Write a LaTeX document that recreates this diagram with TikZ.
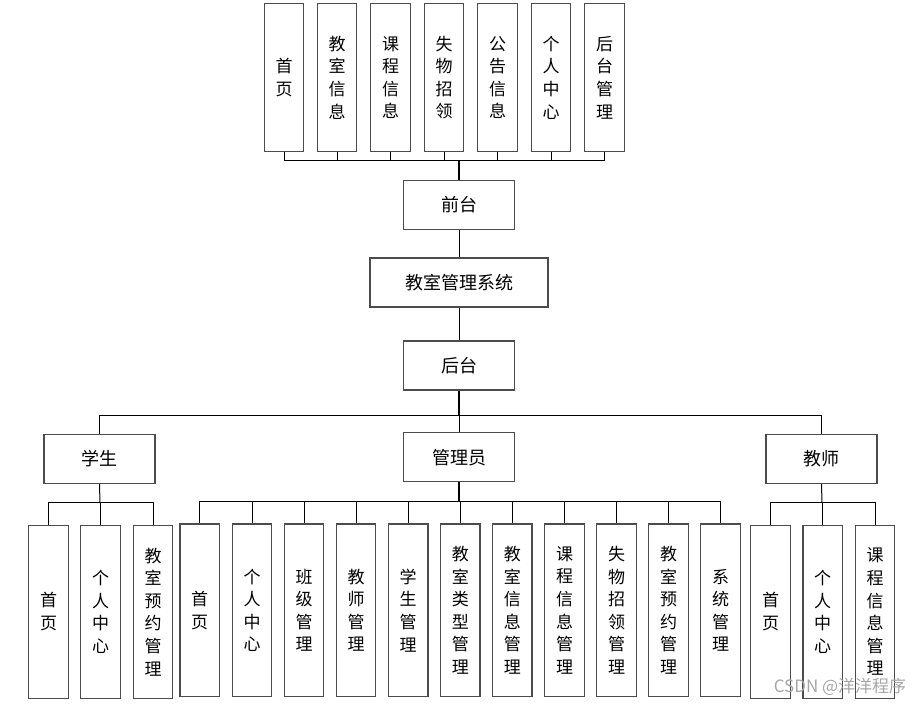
\documentclass[tikz,border=0pt]{standalone}
\usepackage{fontspec}
\setmainfont{Noto Sans CJK SC}
\newcommand{\vt}{\fontsize{17}{22.6}\selectfont}
\tikzset{
  box/.style={draw=black!70, line width=1.2pt, minimum width=39.5pt,
              align=center, inner sep=0pt, font=\vt},
  hbox/.style={draw=black!70, line width=1.2pt, minimum width=111pt,
               minimum height=49pt, font=\fontsize{18}{20}\selectfont},
  link/.style={line width=1pt},
  trunk/.style={line width=2pt}
}

\begin{document}
\begin{tikzpicture}[x=1pt,y=-1pt]
   \useasboundingbox (0,0) rectangle (924,706);
   % front end pages
   \node[box,minimum height=148.4pt] (t1) at (284.0,77.5) {首\\页};
   \node[box,minimum height=148.4pt] (t2) at (337.0,77.5) {教\\室\\信\\息};
   \node[box,minimum height=148.4pt] (t3) at (390.5,77.5) {课\\程\\信\\息};
   \node[box,minimum height=148.4pt] (t4) at (444.0,77.5) {失\\物\\招\\领};
   \node[box,minimum height=148.4pt] (t5) at (497.5,77.5) {公\\告\\信\\息};
   \node[box,minimum height=148.4pt] (t6) at (551.0,77.5) {个\\人\\中\\心};
   \node[box,minimum height=148.4pt] (t7) at (604.5,77.5) {后\\台\\管\\理};
   \node[hbox] (qt) at (459,205) {前台};
   \node[hbox,minimum width=178pt] (sys) at (459,282.5) {教室管理系统};
   \node[hbox] (ht) at (459,365.5) {后台};
   % roles
   \node[hbox] (stu) at (99.5,459) {学生};
   \node[hbox] (adm) at (459,457.3) {管理员};
   \node[hbox] (tea) at (821.5,459) {教师};
   % student pages
   \node[box,minimum height=173pt] (s1) at (48.5,611.8) {首\\页};
   \node[box,minimum height=173pt] (s2) at (100.5,611.8) {个\\人\\中\\心};
   \node[box,minimum height=173pt] (s3) at (153.0,611.8) {教\\室\\预\\约\\管\\理};
   % admin pages
   \node[box,minimum height=172.7pt] (a1) at (199.7,610.3) {首\\页};
   \node[box,minimum height=172.7pt] (a2) at (252.0,610.3) {个\\人\\中\\心};
   \node[box,minimum height=172.7pt] (a3) at (304.0,610.3) {班\\级\\管\\理};
   \node[box,minimum height=172.7pt] (a4) at (356.0,610.3) {教\\师\\管\\理};
   \node[box,minimum height=172.7pt] (a5) at (408.2,610.3) {学\\生\\管\\理};
   \node[box,minimum height=172.7pt] (a6) at (460.3,610.3) {教\\室\\类\\型\\管\\理};
   \node[box,minimum height=172.7pt] (a7) at (512.3,610.3) {教\\室\\信\\息\\管\\理};
   \node[box,minimum height=172.7pt] (a8) at (564.5,610.3) {课\\程\\信\\息\\管\\理};
   \node[box,minimum height=172.7pt] (a9) at (616.5,610.3) {失\\物\\招\\领\\管\\理};
   \node[box,minimum height=172.7pt] (a10) at (668.5,610.3) {教\\室\\预\\约\\管\\理};
   \node[box,minimum height=172.7pt] (a11) at (720.5,610.3) {系\\统\\管\\理};
   % teacher pages
   \node[box,minimum height=173pt] (e1) at (770.5,611.8) {首\\页};
   \node[box,minimum height=173pt] (e2) at (822.7,611.8) {个\\人\\中\\心};
   \node[box,minimum height=173pt] (e3) at (875.0,611.8) {课\\程\\信\\息\\管\\理};
   % buses
   \coordinate (tbus) at (459,161);
   \coordinate (hbus) at (459,415.7);
   \coordinate (sbus) at (100,502.7);
   \coordinate (abus) at (459,501);
   \coordinate (ebus) at (822,502.7);
   % connectors
   \draw[link] (t1.south) |- (tbus);
   \draw[link] (t2.south) |- (tbus);
   \draw[link] (t3.south) |- (tbus);
   \draw[link] (t4.south) |- (tbus);
   \draw[link] (t5.south) |- (tbus);
   \draw[link] (t6.south) |- (tbus);
   \draw[link] (t7.south) |- (tbus);
   \draw[trunk] (tbus) -- (qt.north);
   \draw[link] (qt.south) -- (sys.north);
   \draw[link] (sys.south) -- (ht.north);
   \draw[trunk] (ht.south) -- (hbus);
   \draw[link] (hbus) -| (stu.north);
   \draw[link] (hbus) -| (tea.north);
   \draw[link] (hbus) -- (adm.north);
   \draw[link] (stu.south) -- (sbus);
   \draw[link] (s1.north) |- (sbus);
   \draw[link] (s2.north) |- (sbus);
   \draw[link] (s3.north) |- (sbus);
   \draw[trunk] (adm.south) -- (abus);
   \draw[link] (a1.north) |- (abus);
   \draw[link] (a2.north) |- (abus);
   \draw[link] (a3.north) |- (abus);
   \draw[link] (a4.north) |- (abus);
   \draw[link] (a5.north) |- (abus);
   \draw[link] (a6.north) |- (abus);
   \draw[link] (a7.north) |- (abus);
   \draw[link] (a8.north) |- (abus);
   \draw[link] (a9.north) |- (abus);
   \draw[link] (a10.north) |- (abus);
   \draw[link] (a11.north) |- (abus);
   \draw[link] (tea.south) -- (ebus);
   \draw[link] (e1.north) |- (ebus);
   \draw[link] (e2.north) |- (ebus);
   \draw[link] (e3.north) |- (ebus);
   % watermark
   \node[text=black!35,font=\fontsize{17}{17}\selectfont] (wm) at (840,687) {CSDN @洋洋程序};
\end{tikzpicture}
\end{document}
